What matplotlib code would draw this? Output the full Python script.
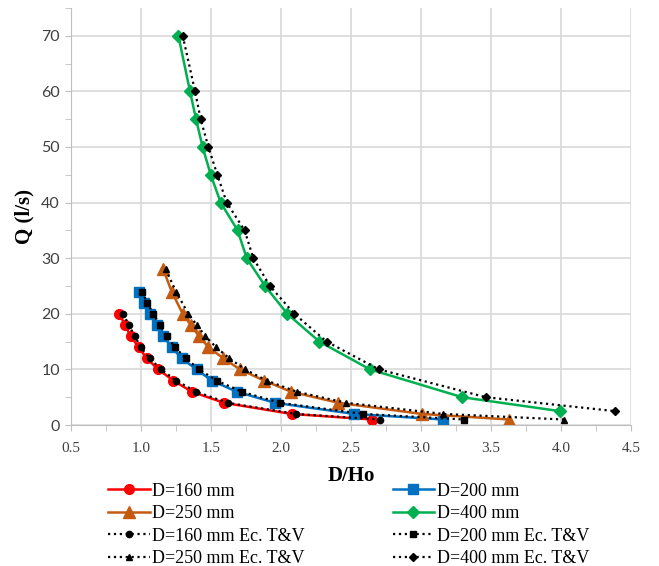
import numpy as np
import matplotlib.pyplot as plt
from matplotlib.ticker import MultipleLocator

plt.rcParams['font.family'] = ['Liberation Serif', 'DejaVu Serif']

# measured curves (D/Ho, Q)
q160 = [20, 18, 16, 14, 12, 10, 8, 6, 4, 2, 1]
x160 = [0.845, 0.886, 0.926, 0.984, 1.04, 1.124, 1.231, 1.362, 1.593, 2.076, 2.65]
x160_tv = [0.874, 0.912, 0.955, 0.998, 1.062, 1.143, 1.252, 1.393, 1.62, 2.107, 2.707]

q200 = [24, 22, 20, 18, 16, 14, 12, 10, 8, 6, 4, 2, 1]
x200 = [0.988, 1.024, 1.064, 1.112, 1.159, 1.219, 1.29, 1.397, 1.505, 1.683, 1.957, 2.524, 3.155]
x200_tv = [1.007, 1.045, 1.088, 1.136, 1.183, 1.243, 1.319, 1.416, 1.54, 1.719, 1.993, 2.588, 3.307]

q250 = [28, 24, 20, 18, 16, 14, 12, 10, 8, 6, 4, 2, 1]
x250 = [1.159, 1.219, 1.298, 1.355, 1.414, 1.481, 1.588, 1.707, 1.879, 2.071, 2.41, 3.005, 3.63]
x250_tv = [1.176, 1.25, 1.338, 1.398, 1.459, 1.536, 1.631, 1.743, 1.898, 2.112, 2.464, 3.16, 4.02]

q400 = [70, 60, 55, 50, 45, 40, 35, 30, 25, 20, 15, 10, 5, 2.5]
x400 = [1.267, 1.35, 1.393, 1.44, 1.498, 1.569, 1.69, 1.755, 1.886, 2.045, 2.274, 2.636, 3.295, 3.993]
x400_tv = [1.298, 1.386, 1.426, 1.481, 1.545, 1.612, 1.74, 1.802, 1.921, 2.095, 2.326, 2.7, 3.464, 4.386]

fig = plt.figure(figsize=(6.59, 5.66), dpi=100)
ax = fig.add_axes([0.1077, 0.249, 0.85, 0.737])

h160, = ax.plot(x160, q160, '-o', color='#FF0000', lw=1.8, ms=7, label='D=160 mm', zorder=2)
h200, = ax.plot(x200, q200, '-s', color='#0070C0', lw=1.8, ms=7, label='D=200 mm', zorder=2)
h250, = ax.plot(x250, q250, '-^', color='#C55A11', lw=1.8, ms=8, label='D=250 mm', zorder=2)
h400, = ax.plot(x400, q400, '-D', color='#00B050', lw=1.8, ms=6.5, label='D=400 mm', zorder=2)

t160, = ax.plot(x160_tv, q160, ':o', color='black', lw=1.6, ms=4.5, label='D=160 mm Ec. T&V', zorder=3)
t200, = ax.plot(x200_tv, q200, ':s', color='black', lw=1.6, ms=4.5, label='D=200 mm Ec. T&V', zorder=3)
t250, = ax.plot(x250_tv, q250, ':^', color='black', lw=1.6, ms=5, label='D=250 mm Ec. T&V', zorder=3)
t400, = ax.plot(x400_tv, q400, ':D', color='black', lw=1.6, ms=4.5, label='D=400 mm Ec. T&V', zorder=3)

ax.set_xlim(0.5, 4.5)
ax.set_ylim(0, 75)
ax.set_xticks(np.arange(0.5, 4.51, 0.5))
ax.set_yticks(np.arange(0, 71, 10))
ax.xaxis.set_minor_locator(MultipleLocator(0.25))
ax.yaxis.set_minor_locator(MultipleLocator(5))
ax.grid(True, which='major', color='#D9D9D9', lw=1.2)
ax.set_axisbelow(True)
for s in ['top', 'right']:
    ax.spines[s].set_visible(False)
for s in ['left', 'bottom']:
    ax.spines[s].set_color('#BFBFBF')
ax.tick_params(which='both', colors='#BFBFBF', length=4, labelcolor='#404040')
ax.tick_params(axis='x', which='major', labelsize=11, pad=8)
ax.tick_params(axis='y', which='major', labelsize=11.5, pad=4)
for lb in ax.get_yticklabels():
    lb.set_family(['Lato', 'DejaVu Sans'])

ax.set_xlabel('D/Ho', fontsize=15, fontweight='bold', labelpad=8)
ax.set_ylabel('Q (l/s)', fontsize=15, fontweight='bold', labelpad=5)

handles = [h160, h250, t160, t250, h200, h400, t200, t400]
fig.legend(handles=handles, labels=[h.get_label() for h in handles], ncol=2,
           loc='upper left', bbox_to_anchor=(0.164, 0.147), frameon=False,
           fontsize=13, handlelength=2.3, handletextpad=0.15, columnspacing=4.85,
           labelspacing=0.3, borderpad=0, borderaxespad=0)

fig.savefig('out.png', dpi=100)
